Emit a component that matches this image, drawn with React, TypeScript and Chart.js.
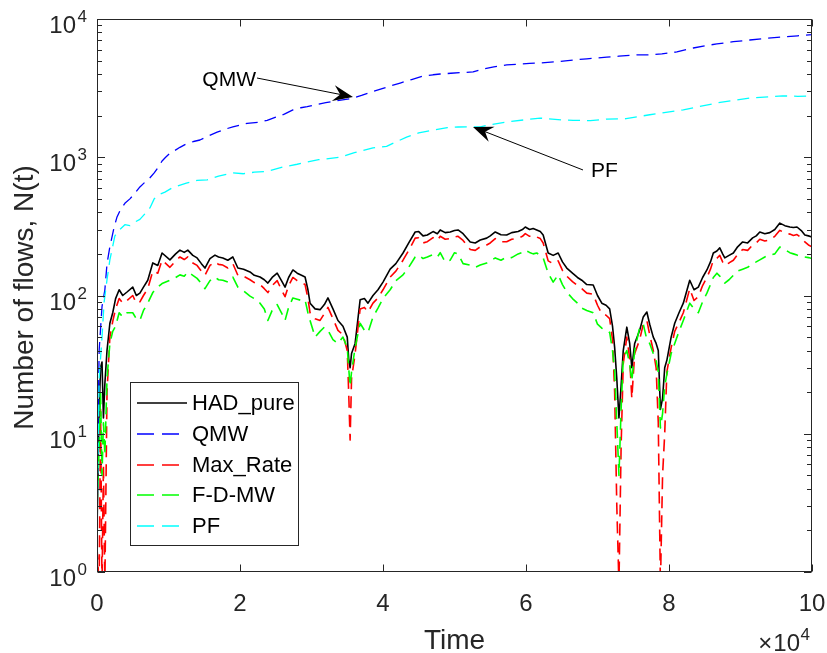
import React, { useEffect, useRef } from "react";
import { Chart, registerables } from "chart.js";

Chart.register(...registerables);

// ---- Data (time in units of 10^4) ----
const tNoisy = [
  0, 0.03, 0.05, 0.07, 0.09, 0.11, 0.14, 0.18, 0.22, 0.26,
  0.31, 0.36, 0.42, 0.5, 0.55, 0.6, 0.65, 0.71, 0.78, 0.85,
  0.91, 1.02, 1.1, 1.16, 1.22, 1.27, 1.34, 1.4, 1.46, 1.51,
  1.58, 1.65, 1.7, 1.76, 1.83, 1.9, 1.97, 2.05, 2.14, 2.2,
  2.28, 2.34, 2.39, 2.45, 2.52, 2.58, 2.63, 2.68, 2.74, 2.8,
  2.86, 2.91, 2.95, 2.98, 3.05, 3.12, 3.18, 3.23, 3.3, 3.37,
  3.44, 3.5, 3.52, 3.54, 3.56, 3.61, 3.68, 3.74, 3.79, 3.86,
  3.93, 4.0, 4.1, 4.18, 4.28, 4.36, 4.45, 4.5, 4.56, 4.62,
  4.7, 4.76, 4.8, 4.87, 4.94, 5.0, 5.05, 5.12, 5.22, 5.29,
  5.36, 5.45, 5.5, 5.57, 5.65, 5.73, 5.8, 5.89, 5.95, 5.99,
  6.05, 6.1, 6.15, 6.2, 6.24, 6.31, 6.38, 6.45, 6.51, 6.57,
  6.65, 6.72, 6.78, 6.85, 6.94, 7.0, 7.06, 7.12, 7.17, 7.21,
  7.24, 7.27, 7.3, 7.33, 7.36, 7.41, 7.45, 7.48, 7.52, 7.59,
  7.64, 7.69, 7.73, 7.78, 7.82, 7.85, 7.88, 7.91, 7.94, 7.97,
  8.03, 8.08, 8.14, 8.2, 8.29, 8.35, 8.41, 8.47, 8.53, 8.58,
  8.62, 8.67, 8.71, 8.75, 8.78, 8.84, 8.9, 8.96, 9.03, 9.1,
  9.17, 9.22, 9.27, 9.34, 9.41, 9.48, 9.55, 9.62, 9.69, 9.74,
  9.79, 9.85, 9.9, 9.95, 10.0,
];

const hadPure = [
  2, 15, 30, 33, 13, 23, 40, 63, 75, 95,
  110, 100, 106, 115, 100, 104, 115, 129, 172, 165,
  203, 181, 200, 213, 205, 213, 195, 187, 170, 158,
  185, 196, 190, 187, 180, 190, 158, 155, 148, 140,
  136, 130, 123, 135, 145, 128, 115, 135, 153, 145,
  140, 136, 110, 88, 80, 79, 86, 96, 80, 66,
  60, 50, 35, 30, 38, 45, 93, 95, 88, 100,
  110, 125, 155, 170, 203, 240, 288, 290, 270, 274,
  290, 280, 298, 285, 288, 295, 298, 280, 244, 240,
  252, 260, 270, 288, 275, 274, 285, 290, 300, 313,
  300, 305, 298, 290, 274, 203, 195, 203, 175, 158,
  145, 135, 129, 120, 119, 100, 88, 85, 80, 60,
  42, 25, 13, 22, 40, 59, 45, 30, 45, 56,
  70, 76, 62, 50, 45, 40, 15, 18, 30, 34,
  50, 63, 75, 88, 129, 110, 115, 135, 153, 175,
  203, 210, 221, 200, 187, 195, 203, 225, 244, 240,
  261, 270, 288, 280, 285, 300, 334, 320, 313, 310,
  313, 295, 274, 270, 265,
];

const maxRate = [
  1.5, 0.8, 15, 0.8, 6, 0.8, 20, 50, 65, 80,
  95, 88, 92, 100, 88, 90, 100, 112, 150, 145,
  180, 160, 178, 190, 182, 190, 172, 165, 150, 140,
  165, 175, 168, 166, 158, 170, 140, 138, 130, 124,
  120, 112, 105, 118, 128, 110, 98, 118, 135, 128,
  124, 120, 95, 75, 68, 66, 74, 82, 68, 56,
  52, 40, 20, 9, 25, 38, 80, 82, 76, 88,
  96, 110, 136, 150, 180, 212, 260, 262, 240, 245,
  262, 250, 268, 255, 258, 265, 268, 250, 215, 212,
  225, 232, 240, 258, 245, 245, 255, 260, 268, 280,
  268, 272, 265, 258, 240, 178, 170, 178, 152, 138,
  126, 118, 112, 104, 102, 85, 74, 72, 68, 48,
  20, 3, 0.8, 8, 32, 50, 35, 18, 38, 48,
  62, 66, 52, 40, 30, 12, 0.8, 5, 10, 28,
  42, 55, 64, 75, 112, 92, 98, 118, 135, 155,
  180, 186, 195, 175, 165, 172, 180, 198, 215, 212,
  232, 240, 255, 248, 252, 268, 296, 284, 278, 272,
  276, 262, 244, 232, 225,
];

const fdmw = [
  3, 8, 20, 5, 12, 7, 25, 45, 55, 60,
  75, 70, 75, 75, 68, 66, 78, 88, 105, 115,
  122, 129, 135, 141, 138, 148, 140, 133, 122, 112,
  128, 136, 130, 129, 125, 136, 115, 108, 99, 95,
  88, 80, 66, 78, 86, 75, 66, 82, 96, 94,
  92, 93, 75, 66, 50, 55, 59, 56, 48, 45,
  50, 42, 30, 22, 28, 42, 63, 56, 54, 70,
  81, 95, 110, 128, 141, 160, 190, 196, 185, 190,
  198, 190, 204, 175, 180, 204, 200, 170, 166, 160,
  166, 172, 178, 187, 180, 190, 188, 200, 205, 213,
  205, 200, 203, 195, 187, 145, 125, 141, 120, 106,
  95, 88, 81, 78, 75, 62, 58, 56, 54, 40,
  28, 12, 5, 15, 35, 40, 32, 24, 40, 59,
  62, 48, 45, 38, 34, 28, 11, 14, 22, 27,
  38, 45, 55, 66, 88, 80, 75, 90, 104, 120,
  135, 145, 138, 129, 123, 130, 140, 150, 155, 160,
  170, 175, 181, 190, 196, 200, 224, 215, 204, 200,
  196, 192, 190, 188, 185,
];

const tQmw = [
  0, 0.03, 0.07, 0.11, 0.14, 0.18, 0.24, 0.28, 0.33, 0.39,
  0.46, 0.53, 0.6, 0.67, 0.73, 0.8, 0.86, 0.91, 0.96, 1.02,
  1.09, 1.16, 1.25, 1.35, 1.44, 1.55, 1.68, 1.8, 1.9, 2.0,
  2.1, 2.25, 2.38, 2.5, 2.62, 2.74, 2.85, 2.94, 3.05, 3.2,
  3.35, 3.48, 3.58, 3.7, 3.85, 4.0, 4.12, 4.24, 4.4, 4.55,
  4.7, 4.8, 4.95, 5.1, 5.26, 5.4, 5.55, 5.73, 5.9, 6.05,
  6.2, 6.4, 6.55, 6.66, 6.85, 7.0, 7.13, 7.3, 7.45, 7.55,
  7.73, 7.9, 8.11, 8.34, 8.5, 8.67, 8.9, 9.13, 9.35, 9.59,
  9.8, 10.0,
];
const qmw = [
  3, 40, 83, 110, 170, 225, 313, 370, 420, 464,
  500, 550, 610, 660, 700, 770, 850, 940, 1000, 1070,
  1120, 1180, 1250, 1300, 1333, 1420, 1520, 1600, 1660, 1710,
  1760, 1790, 1850, 1950, 2050, 2200, 2280, 2320, 2400, 2480,
  2560, 2620, 2680, 2800, 2980, 3150, 3300, 3440, 3650, 3850,
  3950, 4000, 4050, 4100, 4140, 4350, 4500, 4650, 4720, 4780,
  4810, 4900, 4980, 5050, 5150, 5230, 5300, 5380, 5450, 5500,
  5500, 5600, 5780, 6170, 6400, 6600, 6850, 7050, 7250, 7410,
  7560, 7700,
];

const tPf = [
  0, 0.03, 0.07, 0.1, 0.14, 0.18, 0.25, 0.32, 0.39, 0.46,
  0.53, 0.6, 0.67, 0.74, 0.8, 0.88, 0.95, 1.05, 1.25, 1.4,
  1.54, 1.7, 1.9, 2.05, 2.2, 2.38, 2.6, 2.8, 2.94, 3.1,
  3.4, 3.6, 3.86, 4.05, 4.33, 4.5, 4.7, 4.9, 5.05, 5.36,
  5.5, 5.73, 6.0, 6.2, 6.5, 6.66, 6.9, 7.13, 7.4, 7.73,
  8.2, 8.67, 9.13, 9.4, 9.59, 9.8, 10.0,
];
const pf = [
  2, 25, 50, 90, 130, 181, 270, 300, 325, 320,
  340, 355, 390, 430, 500, 540, 560, 600, 650, 680,
  685, 730, 770, 760, 780, 790, 850, 890, 924, 960,
  1000, 1080, 1170, 1200, 1400, 1500, 1570, 1640, 1655, 1660,
  1720, 1800, 1870, 1920, 1860, 1850, 1840, 1890, 1900, 2030,
  2200, 2470, 2680, 2740, 2780, 2760, 2770,
];

const xTickValues = [0, 2, 4, 6, 8, 10];
const xTickLabels = ["0", "2", "4", "6", "8", "10"];
const yTickExponents = [0, 1, 2, 3, 4];
const seriesNames = ["HAD_pure", "QMW", "Max_Rate", "F-D-MW", "PF"];
const seriesColors = ["#000000", "#0000ff", "#ff0000", "#00ff00", "#00ffff"];
const seriesDashed = [false, true, true, true, true];
const seriesWidths = [1.6, 1.3, 1.6, 1.6, 1.3];

const FONT = '"Liberation Sans", Arial, Helvetica, sans-serif';
const AXIS = "#262626";

function toXY(xs: number[], ys: number[]) {
  return xs.map((x, i) => ({ x, y: ys[i] }));
}

function drawArrow(ctx: CanvasRenderingContext2D, x1: number, y1: number, x2: number, y2: number) {
  const dx = x2 - x1;
  const dy = y2 - y1;
  const len = Math.hypot(dx, dy);
  const ux = dx / len;
  const uy = dy / len;
  const px = -uy;
  const py = ux;
  const L = 20;
  const W = 8;
  const N = 13;
  ctx.beginPath();
  ctx.moveTo(x1, y1);
  ctx.lineTo(x2 - ux * N, y2 - uy * N);
  ctx.stroke();
  ctx.beginPath();
  ctx.moveTo(x2, y2);
  ctx.lineTo(x2 - ux * L + px * W, y2 - uy * L + py * W);
  ctx.lineTo(x2 - ux * N, y2 - uy * N);
  ctx.lineTo(x2 - ux * L - px * W, y2 - uy * L - py * W);
  ctx.closePath();
  ctx.fill();
}

const matlabPlugin = {
  id: "matlabAxes",
  afterDatasetsDraw(chart: any) {
    const ctx: CanvasRenderingContext2D = chart.ctx;
    const xs = chart.scales.x;
    const ys = chart.scales.y;
    const { left, right, top, bottom } = chart.chartArea;
    const L = Math.round(left) + 0.5;
    const R = Math.round(right) - 0.5;
    const T = Math.round(top) + 0.5;
    const B = Math.round(bottom) - 0.5;

    ctx.save();
    ctx.setLineDash([]);

    // Annotations (arrows + text)
    ctx.strokeStyle = "#000000";
    ctx.fillStyle = "#000000";
    ctx.lineWidth = 1;
    const qTailX = xs.getPixelForValue(2.238);
    const qTailY = ys.getPixelForValue(3742);
    const qTipX = xs.getPixelForValue(3.58);
    const qTipY = ys.getPixelForValue(2730);
    drawArrow(ctx, qTailX, qTailY, qTipX, qTipY);
    const pTailX = xs.getPixelForValue(6.797);
    const pTailY = ys.getPixelForValue(809);
    const pTipX = xs.getPixelForValue(5.259);
    const pTipY = ys.getPixelForValue(1656);
    drawArrow(ctx, pTailX, pTailY, pTipX, pTipY);
    ctx.font = `21px ${FONT}`;
    ctx.fillStyle = "#000000";
    ctx.textBaseline = "middle";
    ctx.textAlign = "right";
    ctx.fillText("QMW", qTailX - 1, qTailY + 2);
    ctx.textAlign = "left";
    ctx.fillText("PF", pTailX + 8, pTailY + 1);

    // Box
    ctx.strokeStyle = AXIS;
    ctx.lineWidth = 1;
    ctx.strokeRect(L, T, R - L, B - T);

    // X ticks (inward, bottom and top)
    ctx.beginPath();
    xTickValues.forEach((v) => {
      const px = Math.round(xs.getPixelForValue(v)) + 0.5;
      ctx.moveTo(px, B);
      ctx.lineTo(px, B - 7);
      ctx.moveTo(px, T);
      ctx.lineTo(px, T + 7);
    });
    // Y major ticks
    yTickExponents.forEach((e) => {
      const py = Math.round(ys.getPixelForValue(Math.pow(10, e))) + 0.5;
      ctx.moveTo(L, py);
      ctx.lineTo(L + 7.5, py);
      ctx.moveTo(R, py);
      ctx.lineTo(R - 7.5, py);
    });
    // Y minor ticks
    for (let e = 0; e < 4; e++) {
      for (let m = 2; m <= 9; m++) {
        const py = Math.round(ys.getPixelForValue(m * Math.pow(10, e))) + 0.5;
        ctx.moveTo(L, py);
        ctx.lineTo(L + 4.5, py);
        ctx.moveTo(R, py);
        ctx.lineTo(R - 4.5, py);
      }
    }
    ctx.stroke();

    // X tick labels
    ctx.fillStyle = AXIS;
    ctx.font = `24px ${FONT}`;
    ctx.textAlign = "center";
    ctx.textBaseline = "alphabetic";
    xTickValues.forEach((v, i) => {
      ctx.fillText(xTickLabels[i], xs.getPixelForValue(v), bottom + 39);
    });

    // Y tick labels 10^e
    yTickExponents.forEach((e) => {
      const py = ys.getPixelForValue(Math.pow(10, e));
      ctx.font = `17px ${FONT}`;
      ctx.textAlign = "right";
      const sup = String(e);
      const supW = ctx.measureText(sup).width;
      ctx.fillText(sup, left - 10, py + 3);
      ctx.font = `24px ${FONT}`;
      ctx.fillText("10", left - 10 - supW - 1.5, py + 14);
    });

    // x10^4 exponent label
    ctx.font = `17px ${FONT}`;
    ctx.textAlign = "right";
    const expW = ctx.measureText("4").width;
    ctx.fillText("4", right - 2, bottom + 68);
    ctx.font = `24px ${FONT}`;
    const tenX = right - 2 - expW - 0.5;
    ctx.fillText("10", tenX, bottom + 79);
    const tenW = ctx.measureText("10").width;
    ctx.fillText("\u00d7", tenX - tenW - 1, bottom + 79);

    // Axis titles
    ctx.font = `28px ${FONT}`;
    ctx.textAlign = "center";
    ctx.fillText("Time", (left + right) / 2, bottom + 77);
    ctx.save();
    ctx.translate(33, (top + bottom) / 2 + 2);
    ctx.rotate(-Math.PI / 2);
    ctx.fillText("Number of flows, N(t)", 0, 0);
    ctx.restore();

    // Legend box
    const bx = 130.5;
    const by = 382.5;
    const bw = 168;
    const bh = 163;
    ctx.fillStyle = "#ffffff";
    ctx.fillRect(bx, by, bw, bh);
    ctx.strokeStyle = AXIS;
    ctx.lineWidth = 1;
    ctx.strokeRect(bx, by, bw, bh);
    ctx.font = `22px ${FONT}`;
    ctx.textAlign = "left";
    ctx.textBaseline = "middle";
    seriesNames.forEach((name, i) => {
      const ry = by + 20.5 + i * 30.8;
      ctx.save();
      ctx.strokeStyle = seriesColors[i];
      ctx.lineWidth = 1.6;
      ctx.setLineDash(seriesDashed[i] ? [17, 8] : []);
      ctx.beginPath();
      ctx.moveTo(137, Math.round(ry));
      ctx.lineTo(187, Math.round(ry));
      ctx.stroke();
      ctx.restore();
      ctx.fillStyle = "#000000";
      ctx.fillText(name, 192, ry + 1);
    });

    ctx.restore();
  },
};

export default function App() {
  const canvasRef = useRef<HTMLCanvasElement | null>(null);

  useEffect(() => {
    const canvas = canvasRef.current;
    if (!canvas) return;
    const seriesData = [
      toXY(tNoisy, hadPure),
      toXY(tQmw, qmw),
      toXY(tNoisy, maxRate),
      toXY(tNoisy, fdmw),
      toXY(tPf, pf),
    ];
    const chart = new Chart(canvas, {
      type: "line",
      data: {
        datasets: seriesNames.map((name, i) => ({
          label: name,
          data: seriesData[i],
          borderColor: seriesColors[i],
          backgroundColor: seriesColors[i],
          borderWidth: seriesWidths[i],
          borderDash: seriesDashed[i] ? [12, 7] : [],
          pointRadius: 0,
          fill: false,
          tension: 0,
          order: seriesNames.length - 1 - i,
        })),
      },
      options: {
        animation: false,
        responsive: false,
        devicePixelRatio: 1,
        layout: { padding: { left: 97, top: 19, right: 15, bottom: 81 } },
        elements: {
          point: { radius: 0 },
          line: { borderJoinStyle: "round", borderCapStyle: "butt" },
        },
        scales: {
          x: { type: "linear", min: 0, max: 10, display: false },
          y: { type: "logarithmic", min: 1, max: 10000, display: false },
        },
        plugins: {
          legend: { display: false },
          tooltip: { enabled: false },
        },
      },
      plugins: [matlabPlugin],
    } as any);
    return () => {
      chart.destroy();
    };
  }, []);

  return (
    <canvas
      ref={canvasRef}
      width={827}
      height={653}
      style={{ position: "fixed", left: 0, top: 0, width: 827, height: 653, background: "#ffffff" }}
    />
  );
}
